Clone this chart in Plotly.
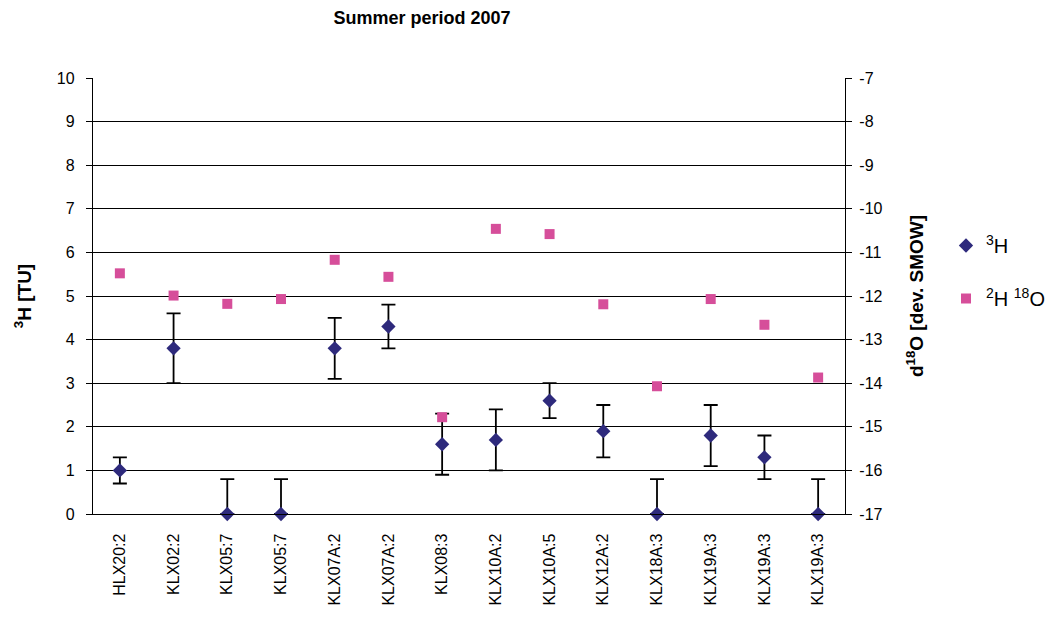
import plotly.graph_objects as go

# Sampling points (some sites sampled more than once)
sites = ["HLX20:2", "KLX02:2", "KLX05:7", "KLX05:7", "KLX07A:2", "KLX07A:2",
         "KLX08:3", "KLX10A:2", "KLX10A:5", "KLX12A:2", "KLX18A:3",
         "KLX19A:3", "KLX19A:3", "KLX19A:3"]

# Tritium [TU] with analytical uncertainty
tritium = [1.0, 3.8, 0.0, 0.0, 3.8, 4.3, 1.6, 1.7, 2.6, 1.9, 0.0, 1.8, 1.3, 0.0]
tritium_err = [0.3, 0.8, 0.8, 0.8, 0.7, 0.5, 0.7, 0.7, 0.4, 0.6, 0.8, 0.7, 0.5, 0.8]

# d18O [dev. SMOW]
d18o = [-11.48, -11.99, -12.18, -12.07, -11.17, -11.56, -14.78, -10.46,
        -10.58, -12.19, -14.07, -12.07, -12.66, -13.87]

left_ticks = list(range(0, 11))
right_ticks = list(range(-17, -6))
right_labels = [str(v) for v in right_ticks]  # plain hyphen minus

x = list(range(len(sites)))
err_minus = [min(e, v) for e, v in zip(tritium_err, tritium)]

FONT = "Liberation Sans, Arial, sans-serif"
NAVY = "#2E2A7C"
PINK = "#D64E9A"

# plot area in pixels
L, R, T, B = 93, 845, 78, 514
W, H = 1057, 629

fig = go.Figure()

fig.add_trace(go.Scatter(
    x=x, y=tritium, mode="markers", name="<sup>3</sup>H",
    legendgroup="a",
    marker=dict(symbol="diamond", size=11, color=NAVY),
    error_y=dict(type="data", symmetric=False, array=tritium_err,
                 arrayminus=err_minus, color="black", thickness=1.8, width=7),
    cliponaxis=False,
))

fig.add_trace(go.Scatter(
    x=x, y=d18o, mode="markers", name="<sup>2</sup>H <sup>18</sup>O",
    legendgroup="b", yaxis="y2",
    marker=dict(symbol="square", size=10, color=PINK),
    cliponaxis=False,
))

fig.update_layout(
    width=W, height=H,
    margin=dict(l=L, r=W - R, t=T, b=H - B, autoexpand=False),
    paper_bgcolor="white", plot_bgcolor="white",
    font=dict(family=FONT, size=16, color="black"),
    title=dict(text="<b>Summer period 2007</b>", x=422 / W, xanchor="center",
               y=1 - 18 / H, yanchor="middle",
               font=dict(family=FONT, size=18, color="black")),
    xaxis=dict(range=[-0.5, len(sites) - 0.5], tickvals=x, ticktext=sites,
               tickangle=-90, showgrid=False, zeroline=False,
               showline=True, linecolor="black", linewidth=1.3,
               ticks="", tickfont=dict(size=16), ticklabelstandoff=12,
               automargin=False),
    yaxis=dict(range=[0, 10], tickvals=left_ticks, showgrid=True,
               gridcolor="black", gridwidth=1, zeroline=False,
               showline=True, linecolor="black", linewidth=1.3,
               ticks="outside", ticklen=6, tickcolor="black",
               ticklabelstandoff=8, automargin=False,
               title=dict(text="<b><sup>3</sup>H [TU]</b>",
                          font=dict(size=19), standoff=20)),
    yaxis2=dict(range=[-17, -7], tickvals=right_ticks, ticktext=right_labels,
                overlaying="y", side="right", showgrid=False, zeroline=False,
                showline=True, linecolor="black", linewidth=1.3,
                ticks="outside", ticklen=6, tickcolor="black",
                ticklabelstandoff=4, automargin=False,
                title=dict(text="<b>d<sup>18</sup>O [dev. SMOW]</b>",
                           font=dict(size=19), standoff=28)),
    legend=dict(x=(946 - L) / (R - L), y=(B - 226) / (B - T),
                xanchor="left", yanchor="top",
                font=dict(size=20), tracegroupgap=24,
                bgcolor="rgba(0,0,0,0)"),
    showlegend=True,
)

fig.write_html("out.html")
